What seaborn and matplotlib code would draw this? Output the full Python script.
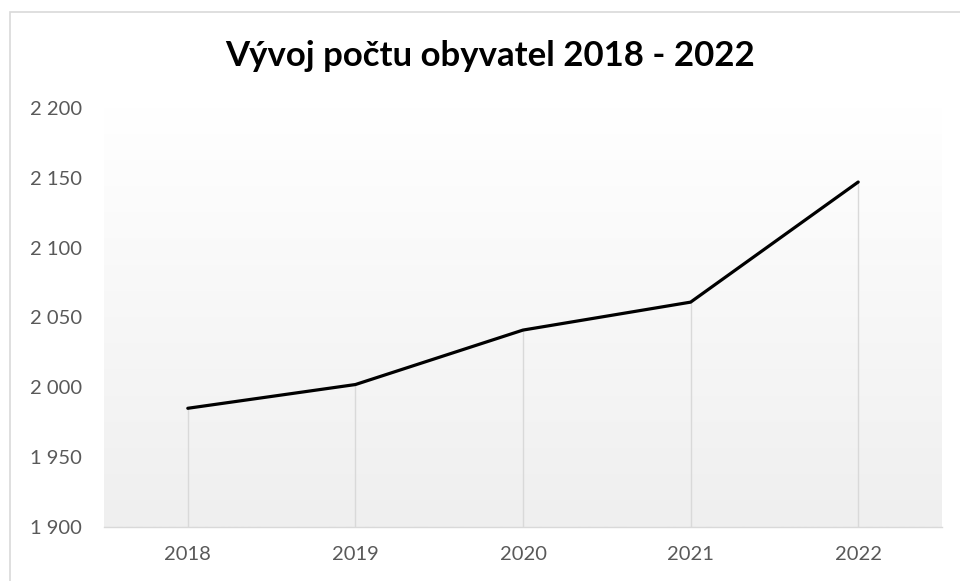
import matplotlib
matplotlib.use("Agg")
import matplotlib.pyplot as plt
import numpy as np
import pandas as pd
import seaborn as sns
from matplotlib.patches import Rectangle
from matplotlib.ticker import FuncFormatter

sns.set_theme(style="white")
plt.rcParams["font.family"] = ["Lato", "DejaVu Sans"]

# Data
years = [2018, 2019, 2020, 2021, 2022]
population = [1985, 2002, 2041, 2061, 2147]
y_ticks = [1900, 1950, 2000, 2050, 2100, 2150, 2200]

df = pd.DataFrame({"year": years, "population": population})

fig = plt.figure(figsize=(9.6, 5.81), dpi=100)
fig.patch.set_facecolor("white")
ax = fig.add_axes([104 / 960, 1 - 527 / 581, (942 - 104) / 960, (527 - 108) / 581])

# chart frame
fig.patches.append(Rectangle((10 / 960, -0.1), 1.2, 1 - 12 / 581 + 0.1, transform=fig.transFigure,
                             fill=False, edgecolor="#d9d9d9", linewidth=1.2, zorder=0))

# gradient background for plot area
grad = np.linspace(1.0, 0.0, 256).reshape(-1, 1)
ax.imshow(grad, extent=[0, 1, 0, 1], transform=ax.transAxes, aspect="auto",
          cmap=matplotlib.colors.LinearSegmentedColormap.from_list("g", ["#efefef", "#ffffff"]),
          vmin=0, vmax=1, zorder=0, origin="upper")

ax.vlines(df["year"], y_ticks[0], df["population"], colors="#d9d9d9", linewidth=1, zorder=1)
sns.lineplot(data=df, x="year", y="population", ax=ax, color="black", linewidth=2.3, zorder=3)

ax.set_xlim(2017.5, 2022.5)
ax.set_ylim(y_ticks[0], y_ticks[-1])
ax.set_xticks(years)
ax.set_yticks(y_ticks)
ax.yaxis.set_major_formatter(FuncFormatter(lambda v, p: f"{int(v):,}".replace(",", " ")))
ax.tick_params(axis="both", labelsize=14.5, labelcolor="#595959", length=0)
ax.tick_params(axis="y", pad=16)
ax.tick_params(axis="x", pad=14)
ax.set_xlabel("")
ax.set_ylabel("")
for s in ["top", "right", "left"]:
    ax.spines[s].set_visible(False)
ax.spines["bottom"].set_color("#d9d9d9")
ax.spines["bottom"].set_linewidth(1)

fig.text(490 / 960, 1 - 56 / 581, "Vývoj počtu obyvatel 2018 - 2022", ha="center", va="center",
         fontsize=25, fontweight="bold", color="black")

fig.savefig("out.png", dpi=100)
